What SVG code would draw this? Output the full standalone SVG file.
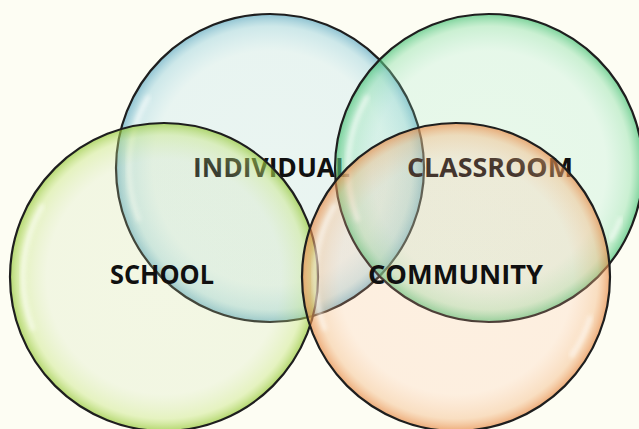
<svg xmlns="http://www.w3.org/2000/svg" width="639" height="429" viewBox="0 0 639 429">
<style>
.ring{stroke:#1e1e1e;stroke-width:2.2}
.lbl{font-family:"Open Sans","Lato","Liberation Sans",sans-serif;font-weight:bold;font-size:26px;fill:#101010}
.hl{fill:none;stroke:#ffffff;stroke-width:5;stroke-linecap:round;opacity:0.55;filter:url(#blur)}
</style>
<defs>
<filter id="blur" x="-20%" y="-20%" width="140%" height="140%"><feGaussianBlur stdDeviation="2"/></filter>
<radialGradient id="gBlue">
<stop offset="0" stop-color="#9ed5e9" stop-opacity="0.2"/>
<stop offset="0.76" stop-color="#9ed5e9" stop-opacity="0.22"/>
<stop offset="0.92" stop-color="#8ccbdc" stop-opacity="0.42"/>
<stop offset="1" stop-color="#5ea8c2" stop-opacity="0.7"/>
</radialGradient>
<radialGradient id="gGreen">
<stop offset="0" stop-color="#94e4c6" stop-opacity="0.2"/>
<stop offset="0.76" stop-color="#94e4c6" stop-opacity="0.22"/>
<stop offset="0.92" stop-color="#86dea6" stop-opacity="0.42"/>
<stop offset="1" stop-color="#44c074" stop-opacity="0.7"/>
</radialGradient>
<radialGradient id="gSchool">
<stop offset="0" stop-color="#cbdfa8" stop-opacity="0.2"/>
<stop offset="0.76" stop-color="#cbdfa8" stop-opacity="0.22"/>
<stop offset="0.92" stop-color="#c4e47a" stop-opacity="0.42"/>
<stop offset="1" stop-color="#92c634" stop-opacity="0.7"/>
</radialGradient>
<radialGradient id="gOrange">
<stop offset="0" stop-color="#fdbc99" stop-opacity="0.2"/>
<stop offset="0.76" stop-color="#fdbc99" stop-opacity="0.22"/>
<stop offset="0.92" stop-color="#f3b47c" stop-opacity="0.42"/>
<stop offset="1" stop-color="#e68844" stop-opacity="0.7"/>
</radialGradient>
</defs>
<rect width="639" height="429" fill="#fdfdf3"/>
<g id="individual">
<circle class="ring" cx="270" cy="168" r="154" fill="url(#gBlue)"/>
<path class="hl" d="M 138.6 219.3 A 141 141 0 0 1 147.9 97.5"/>
<text class="lbl" x="193" y="177" textLength="157" lengthAdjust="spacingAndGlyphs">INDIVIDUAL</text>
</g>
<g id="classroom">
<circle class="ring" cx="489" cy="168" r="154" fill="url(#gGreen)"/>
<path class="hl" d="M 357.6 219.3 A 141 141 0 0 1 366.9 97.5"/>
<path class="hl" d="M 620.4 219.3 A 141 141 0 0 1 611.1 238.5" opacity="0.4"/>
<text class="lbl" x="407" y="177" textLength="166" lengthAdjust="spacingAndGlyphs">CLASSROOM</text>
</g>
<g id="school">
<circle class="ring" cx="164" cy="277" r="154" fill="url(#gSchool)"/>
<path class="hl" d="M 32.6 328.3 A 141 141 0 0 1 41.9 206.5"/>
<text class="lbl" x="110" y="284" textLength="104" lengthAdjust="spacingAndGlyphs">SCHOOL</text>
</g>
<g id="community">
<circle class="ring" cx="456" cy="277" r="154" fill="url(#gOrange)"/>
<path class="hl" d="M 324.6 328.3 A 141 141 0 0 1 333.9 206.5"/>
<path class="hl" d="M 590 318 A 141 141 0 0 1 572 355" opacity="0.45"/>
<text class="lbl" x="368" y="284" textLength="175" lengthAdjust="spacingAndGlyphs">COMMUNITY</text>
</g>
</svg>
